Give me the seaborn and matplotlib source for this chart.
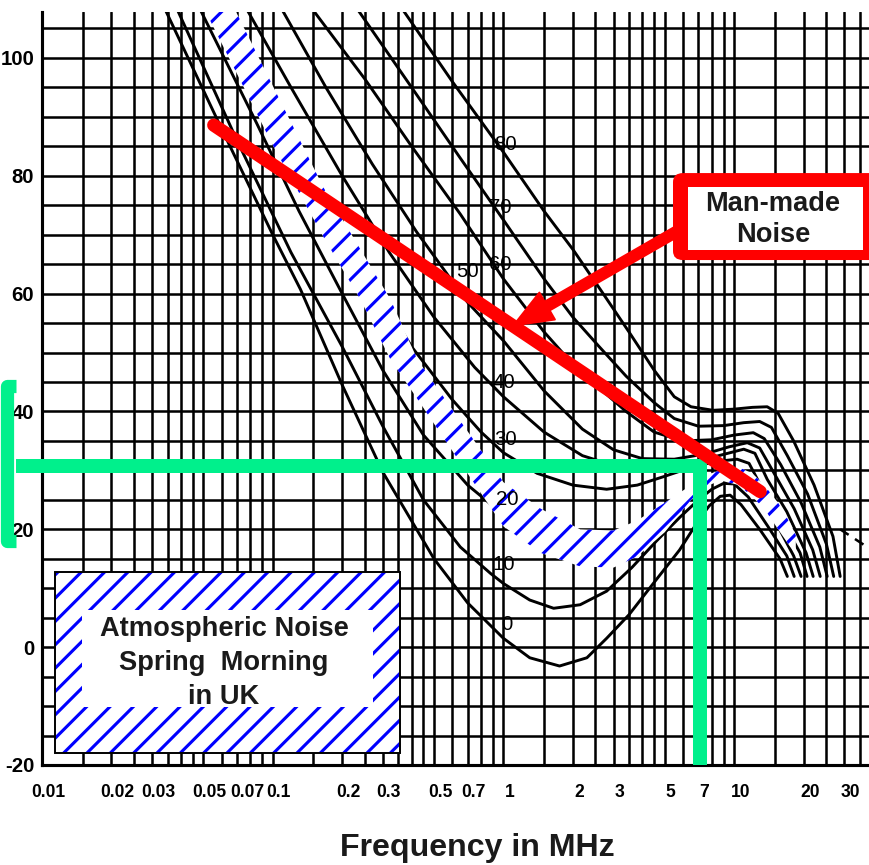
import numpy as np
import pandas as pd
import matplotlib
matplotlib.use("Agg")
import matplotlib.pyplot as plt
import matplotlib.transforms as mtransforms
import seaborn as sns
from matplotlib.patches import Rectangle, FancyBboxPatch
from matplotlib.ticker import FixedLocator, NullFormatter

# ---------------- data ----------------
curve_names = ["0", "10", "20", "30", "40", "50", "60", "70", "80"]

freq_c0 = [0.0344, 0.06, 0.1, 0.132, 0.2, 0.3, 0.5, 0.7, 1.0, 1.3, 1.75, 2.3, 2.8, 3.5, 4.5, 5.8, 7.0, 7.8, 8.7, 9.6, 10.7, 12.9, 15.8, 17.0]
level_c0 = [108, 88, 70, 60.7, 44.5, 29.7, 15, 7.5, 1.5, -1.8, -3.2, -1.8, 1.5, 5.5, 11, 16.5, 21.5, 24, 25.6, 25.8, 24.2, 20, 15, 12]

freq_c10 = [0.0388, 0.07, 0.12, 0.2, 0.3, 0.45, 0.65, 0.88, 1.0, 1.3, 1.65, 2.15, 2.8, 3.6, 4.6, 5.8, 7.0, 8.0, 9.0, 10.0, 11.5, 14.0, 16.9, 18.2]
level_c10 = [108, 86, 67, 51, 37.5, 25, 17, 12.5, 10.8, 8, 6.6, 7.2, 9.5, 13.5, 18, 22, 25, 26.8, 27.8, 27.7, 25.5, 20.5, 15.5, 12]

freq_c20 = [0.0488, 0.085, 0.13, 0.2, 0.3, 0.45, 0.7, 1.0, 1.4, 2.0, 2.7, 3.5, 4.5, 5.8, 7.2, 8.5, 9.6, 11.0, 12.3, 15.0, 18.1, 19.5]
level_c20 = [108, 89, 74, 60, 47, 36, 27.5, 22.5, 19, 17, 17.2, 19, 22, 25.5, 28, 29.7, 30.2, 29.6, 27, 21.5, 15.5, 12]

freq_c30 = [0.0615, 0.1, 0.16, 0.25, 0.4, 0.6, 0.8, 1.0, 1.4, 2.0, 2.8, 3.8, 5.0, 6.5, 8.3, 10.3, 11.6, 13.0, 15.9, 19.3, 20.7]
level_c30 = [108, 93, 78, 64, 51, 42, 36.5, 33, 29.5, 27.5, 26.8, 27.5, 29, 30.5, 31.5, 31.9, 31.2, 27.5, 22, 16, 12]

freq_c40 = [0.0779, 0.12, 0.2, 0.32, 0.5, 0.75, 1.0, 1.5, 2.2, 3.2, 4.5, 6.0, 8.0, 11.0, 12.3, 13.9, 16.9, 20.5, 22.0]
level_c40 = [108, 95, 80, 67, 56, 47.5, 42.5, 36.5, 32.5, 30.5, 30.2, 30.9, 32.2, 33.6, 32.9, 28.5, 23, 16, 12]

freq_c50 = [0.1105, 0.17, 0.27, 0.42, 0.7, 1.0, 1.5, 2.2, 3.0, 4.0, 5.5, 7.5, 9.5, 11.4, 12.9, 14.9, 18.2, 21.9, 23.6]
level_c50 = [108, 95, 82, 70.5, 58.5, 52, 43.5, 37, 33.5, 32, 31.9, 32.8, 34, 34.7, 33.8, 29.5, 23.5, 16.5, 12]

freq_c60 = [0.1504, 0.25, 0.4, 0.65, 1.0, 1.5, 2.0, 2.6, 3.4, 4.5, 6.0, 8.0, 10.0, 12.1, 13.5, 15.9, 19.5, 23.5, 25.3]
level_c60 = [108, 96.5, 85, 73.5, 62.5, 53.5, 48, 44, 40, 36.5, 35, 35.2, 36, 36.4, 35.4, 31, 24.5, 17, 12]

freq_c70 = [0.2355, 0.4, 0.65, 1.0, 1.5, 2.0, 2.6, 3.4, 4.5, 5.5, 7.0, 9.0, 11.0, 12.9, 14.5, 17.0, 20.8, 25.1, 27.0]
level_c70 = [108, 95, 83, 72.5, 62.5, 56, 51, 46, 41.5, 38.8, 37.5, 37.6, 38.1, 38.3, 37.3, 32.5, 26, 17.5, 12]

freq_c80 = [0.369, 0.6, 1.0, 1.5, 2.0, 2.63, 3.5, 4.5, 5.5, 6.5, 8.1, 10.0, 12.0, 13.9, 15.5, 18.1, 22.2, 26.8, 28.8]
level_c80 = [108, 96, 84, 74, 67.5, 60.7, 53.5, 47, 42.5, 40.8, 40.2, 40.4, 40.7, 40.8, 39.7, 35, 27.5, 18.8, 12]

curve_freqs = [freq_c0, freq_c10, freq_c20, freq_c30, freq_c40, freq_c50, freq_c60, freq_c70, freq_c80]
curve_levels = [level_c0, level_c10, level_c20, level_c30, level_c40, level_c50, level_c60, level_c70, level_c80]

# curve labels
label_freq = [1.03, 1.0, 1.04, 1.02, 1.0, 0.70, 0.97, 0.97, 1.02]
label_level = [3.9, 14.1, 25.1, 35.3, 44.9, 63.7, 64.9, 74.7, 85.3]

# atmospheric noise band (spring morning, UK)
band_freq = [0.051, 0.069, 0.1, 0.166, 0.24, 0.324, 0.424, 0.65, 1.0, 1.45, 2.15, 3.0, 3.8, 5.0, 6.5, 7.5, 8.7, 10.5, 12.0, 13.5, 15.5, 17.5, 18.5]
band_low = [108, 97.8, 85.2, 69.6, 59, 48.8, 42.1, 31.3, 20.5, 16, 13.7, 13.5, 15.4, 19.5, 25, 27.2, 28.3, 27.5, 25.5, 23.5, 20, 17, 16]
band_high = [118, 108, 95.3, 78, 67.5, 59, 48.8, 38.4, 28, 23.5, 20, 19.8, 21.5, 24.5, 27.5, 29.2, 30, 30.5, 29.5, 27.5, 24.5, 21, 19]

# man-made noise line
manmade_freq = [0.0555, 12.96]
manmade_level = [88.6, 26.4]

# galactic (dashed) continuation
galactic_freq = [28.8, 38.4]
galactic_level = [20.0, 16.8]

# reading at 7 MHz
reading_freq = 7.13
reading_level = 30.8

# axis ticks
xtick_vals = [0.01, 0.02, 0.03, 0.05, 0.07, 0.1, 0.2, 0.3, 0.5, 0.7, 1, 2, 3, 5, 7, 10, 20, 30]
xtick_labels = ["0.01", "0.02", "0.03", "0.05", "0.07", "0.1", "0.2", "0.3", "0.5", "0.7", "1", "2", "3", "5", "7", "10", "20", "30"]
ytick_vals = [-20, 0, 20, 40, 60, 80, 100]
ytick_labels = ["-20", "0", "20", "40", "60", "80", "100"]

# ---------------- figure ----------------
sns.set_theme(style="white")
plt.rcParams["font.family"] = ["Liberation Sans", "DejaVu Sans"]
plt.rcParams["hatch.linewidth"] = 1.6
plt.rcParams["hatch.color"] = "#0000FF"

DPI = 140
fig = plt.figure(figsize=(869 / DPI, 865 / DPI), dpi=DPI)
fig.patch.set_facecolor("white")
ax = fig.add_axes([42 / 869, 100 / 865, 827 / 869, 753 / 865])
ax.set_facecolor("white")
ax.set_xscale("log")

rows = []
for name, fr, lv in zip(curve_names, curve_freqs, curve_levels):
    for i, (f, v) in enumerate(zip(fr, lv)):
        rows.append({"curve": name, "order": i, "freq": f, "level": v})
df = pd.DataFrame(rows)
sns.lineplot(data=df, x="freq", y="level", units="curve", estimator=None, sort=False,
             color="black", lw=1.5, ax=ax, legend=False, zorder=2)

# grid
mults = [1, 1.5, 2, 2.5, 3, 3.5, 4, 4.5, 5, 6, 7, 8, 9]
grid_freq = [m * d for d in (0.01, 0.1, 1, 10) for m in mults if m * d <= 38.4]
ax.set_xlim(0.01, 38.4)
ax.set_ylim(-20, 107.8)
ax.set_xticks(xtick_vals, xtick_labels)
ax.xaxis.set_minor_locator(FixedLocator(grid_freq))
ax.xaxis.set_minor_formatter(NullFormatter())
ax.set_yticks(ytick_vals, ytick_labels)
ax.yaxis.set_minor_locator(FixedLocator(list(range(-20, 106, 5))))
ax.set_axisbelow(True)
ax.grid(True, which="both", color="black", lw=1.3)
ax.tick_params(which="both", length=0)
ax.tick_params(axis="x", pad=10)
ax.tick_params(axis="y", pad=4)
for lab in ax.get_yticklabels():
    lab.set_fontsize(10.5)
    lab.set_fontweight("bold")
    lab.set_color("black")
nudge = {"0.07": 10}
for lab in ax.get_xticklabels():
    lab.set_fontsize(9)
    lab.set_fontweight("bold")
    lab.set_color("black")
    dx = nudge.get(lab.get_text(), 6)
    lab.set_transform(lab.get_transform() + mtransforms.ScaledTranslation(dx / DPI, 0, fig.dpi_scale_trans))
for s in ["top", "right"]:
    ax.spines[s].set_visible(False)
for s in ["left", "bottom"]:
    ax.spines[s].set_color("black")
    ax.spines[s].set_linewidth(1.6)
ax.set_xlabel("")
ax.set_ylabel("")

# band
ax.fill_between(band_freq, band_low, band_high, facecolor="white", edgecolor="#0000FF",
                hatch="//", linewidth=0, zorder=3)

# curve labels
for name, f, v in zip(curve_names, label_freq, label_level):
    ax.text(f, v, name, ha="center", va="center", fontsize=10.5, color="black", zorder=4)

# galactic dashed
ax.plot(galactic_freq, galactic_level, color="black", lw=1.3, dashes=(4, 3), zorder=2)

# green reading lines
ax.plot([0.00772, reading_freq, reading_freq], [reading_level, reading_level, -20],
        color="#00F08C", lw=7.2, solid_joinstyle="miter", solid_capstyle="butt",
        clip_on=False, zorder=5)
ax.plot([0.00772, 0.00706, 0.00706, 0.00772], [44.4, 44.4, 18.1, 18.1],
        color="#00F08C", lw=6.8, solid_joinstyle="round", solid_capstyle="butt",
        clip_on=False, zorder=5)

# man-made noise line + arrow
ax.plot(manmade_freq, manmade_level, color="#FF0000", lw=6.8, solid_capstyle="round", zorder=6)
ax.annotate("", xy=(1.105, 54.6), xytext=(5.9, 71.0),
            arrowprops=dict(arrowstyle="simple,head_length=0.5,head_width=0.4,tail_width=0.13",
                            color="#FF0000", shrinkA=0, shrinkB=0, mutation_scale=40),
            zorder=6)

# Man-made noise box
ax.add_patch(FancyBboxPatch((0.763, 0.6706), 0.26, 0.1155, boxstyle="round,pad=0,rounding_size=0.012",
                            transform=ax.transAxes, facecolor="#FF0000", edgecolor="none",
                            zorder=7, clip_on=False))
ax.add_patch(Rectangle((0.781, 0.684), 0.212, 0.0836, transform=ax.transAxes,
                       facecolor="white", edgecolor="none", zorder=7.5, clip_on=False))
ax.text(0.884, 0.725, "Man-made\nNoise", transform=ax.transAxes, ha="center", va="center",
        fontsize=14, fontweight="bold", color="#1a1a1a", linespacing=1.25, zorder=8)

# legend box (atmospheric noise)
ax.add_patch(Rectangle((0.0157, 0.0159), 0.4172, 0.2404, transform=ax.transAxes,
                       facecolor="white", edgecolor="#0000FF", hatch="//", linewidth=0, zorder=7))
ax.add_patch(Rectangle((0.0157, 0.0159), 0.4172, 0.2404, transform=ax.transAxes,
                       fill=False, edgecolor="black", linewidth=1.0, zorder=7.2))
ax.add_patch(Rectangle((0.0484, 0.077), 0.3518, 0.1288, transform=ax.transAxes,
                       facecolor="white", edgecolor="none", zorder=7.5))
ax.text(0.2200, 0.136, "Atmospheric Noise\nSpring  Morning\nin UK", transform=ax.transAxes,
        ha="center", va="center", multialignment="center", fontsize=14, fontweight="bold",
        color="#1a1a1a", linespacing=1.4, zorder=8)

fig.text(477 / 869, 1 - 848 / 865, "Frequency in MHz", ha="center", va="center",
         fontsize=16.5, fontweight="bold", color="#1a1a1a")

fig.savefig("out.png", dpi=DPI, facecolor="white")
